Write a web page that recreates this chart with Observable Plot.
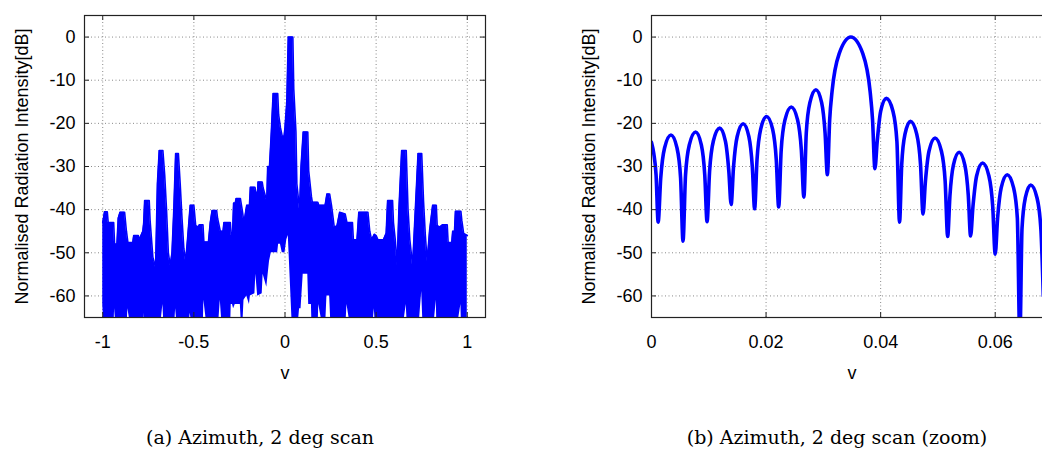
<!DOCTYPE html>
<html><head><meta charset="utf-8">
<script src="https://cdn.jsdelivr.net/npm/d3@7"></script>
<script src="https://cdn.jsdelivr.net/npm/@observablehq/plot@0.6"></script>
<style>
html,body{margin:0;padding:0;background:#fff;}
#wrap{position:relative;width:1042px;height:453px;overflow:hidden;background:#fff;}
.panel{position:absolute;top:0;width:521px;height:400px;}
.panel svg{max-width:none !important;}
.cap{position:absolute;top:426px;font-family:"DejaVu Serif","Liberation Serif",serif;font-size:19px;line-height:22px;white-space:nowrap;transform:translateX(-50%);color:#000;}
</style></head><body>
<div id="wrap">
  <div class="panel" id="pa" style="left:0px"></div>
  <div class="panel" id="pb" style="left:560px"></div>
  <div class="cap" style="left:260px">(a) Azimuth, 2 deg scan</div>
  <div class="cap" style="left:837px">(b) Azimuth, 2 deg scan (zoom)</div>
</div>
<script>
// ---------- data ----------
const yLabel = "Normalised Radiation Intensity[dB]";
const xLabel = "v";
const yTicks = [0, -10, -20, -30, -40, -50, -60];
const xTicksA = [-1, -0.5, 0, 0.5, 1];
const xTicksB = [0, 0.02, 0.04, 0.06];

// Panel (a): envelope of the dense pattern (upper edge and lower edge of the blue fill)
const fullV = [-1.000,-0.990,-0.975,-0.970,-0.940,-0.935,-0.922,-0.915,-0.905,-0.880,-0.870,-0.862,-0.835,-0.830,-0.805,-0.800,-0.780,-0.775,-0.770,-0.745,-0.740,-0.725,-0.710,-0.700,-0.690,-0.670,-0.660,-0.650,-0.640,-0.630,-0.620,-0.610,-0.600,-0.585,-0.575,-0.565,-0.555,-0.545,-0.535,-0.520,-0.500,-0.490,-0.475,-0.470,-0.450,-0.445,-0.420,-0.410,-0.400,-0.375,-0.370,-0.355,-0.340,-0.335,-0.300,-0.295,-0.288,-0.282,-0.273,-0.268,-0.245,-0.235,-0.225,-0.210,-0.195,-0.190,-0.165,-0.160,-0.150,-0.148,-0.125,-0.120,-0.100,-0.095,-0.085,-0.075,-0.065,-0.040,-0.035,-0.025,-0.015,-0.005,0.000,0.010,0.018,0.043,0.048,0.060,0.065,0.080,0.088,0.100,0.125,0.130,0.145,0.150,0.180,0.185,0.220,0.230,0.245,0.255,0.270,0.285,0.300,0.330,0.340,0.370,0.375,0.395,0.405,0.455,0.465,0.475,0.490,0.500,0.510,0.540,0.555,0.563,0.590,0.595,0.605,0.615,0.625,0.640,0.665,0.675,0.685,0.700,0.715,0.730,0.750,0.760,0.770,0.780,0.793,0.810,0.830,0.835,0.850,0.865,0.890,0.895,0.915,0.920,0.930,0.935,0.965,0.970,0.980,1.000];
const fullUpper = [-43,-40.5,-40.5,-43,-43,-48,-48,-42,-40.6,-40.6,-45,-47.6,-47.6,-46,-46,-47,-45,-43,-37.9,-37.9,-42.6,-51,-53.4,-34,-26.3,-26.3,-32,-40,-50,-53,-50,-40,-27,-27,-34,-42,-49,-52,-47,-39,-39,-43.7,-44,-43.5,-43.5,-47.5,-47.5,-43,-40.2,-40.2,-42,-45,-45,-43,-43,-46,-46,-38.5,-38.5,-37.4,-37.4,-40,-43,-39,-39,-34.8,-34.8,-36,-36,-33.6,-33.6,-35,-38,-30,-30,-22,-13.1,-13.1,-18,-21,-23,-23,-21,-15,0,0,-12,-22,-34,-40,-30,-22,-22,-31,-37,-38.3,-38.3,-39,-39,-36.4,-36.4,-39,-44,-43.8,-40.6,-41,-43,-43,-47,-47,-40.6,-40.6,-45,-47,-45.7,-46,-47,-47,-45.5,-37.9,-37.9,-43,-47,-53,-40,-26.3,-26.3,-40,-47,-53,-40,-27,-27,-38,-46,-52,-45,-39,-39,-43.7,-44,-43.5,-43.5,-47.6,-47.6,-45,-45,-40.4,-40.4,-42.5,-45.5,-46];
const fullLower = [-62,-70,-70,-70,-70,-63,-70,-70,-70,-70,-70,-63,-70,-70,-70,-70,-70,-64,-70,-70,-70,-70,-70,-70,-70,-62,-70,-70,-70,-70,-70,-70,-63,-70,-70,-70,-70,-70,-70,-64,-70,-70,-70,-70,-70,-61,-70,-70,-70,-70,-70,-61,-70,-70,-70,-62,-62,-63,-62,-62,-62,-70,-61,-60,-62,-60,-59.5,-55,-60,-60,-59.5,-55,-58,-56,-52,-50,-50,-50,-48,-48,-50,-50,-50,-47,-46,-70,-70,-70,-70,-63,-63,-55,-55,-62,-62,-70,-70,-62,-70,-60,-60,-70,-70,-70,-70,-70,-62,-70,-70,-70,-70,-70,-70,-70,-63,-70,-70,-70,-70,-70,-70,-70,-70,-70,-70,-70,-62,-70,-70,-70,-70,-70,-59,-70,-70,-70,-70,-70,-61,-70,-70,-70,-70,-70,-70,-70,-70,-70,-62,-70,-70,-70];

// Panel (b): zoomed pattern, nulls / shoulders / peaks of each lobe
const zoomV = [0,0.0004,0.0008,0.00116,0.00161,0.00228,0.0034,0.00445,0.00508,0.0055,0.00594,0.0066,0.0077,0.0087,0.0093,0.0097,0.01014,0.0108,0.0119,0.0129,0.0135,0.0139,0.01432,0.01495,0.0160,0.0170,0.0176,0.0180,0.01842,0.01905,0.0201,0.02115,0.02178,0.0222,0.02264,0.0233,0.0244,0.0255,0.02616,0.0266,0.02702,0.02765,0.0287,0.0297,0.0303,0.0307,0.03111,0.03152,0.03275,0.0348,0.0369,0.03816,0.03858,0.0390,0.0394,0.0400,0.0410,0.04215,0.04284,0.0433,0.04368,0.04425,0.0452,0.0463,0.04696,0.0474,0.04782,0.04845,0.0495,0.0506,0.05126,0.0517,0.0521,0.0527,0.0537,0.0547,0.0553,0.0557,0.05612,0.05675,0.0578,0.0589,0.05956,0.0600,0.06042,0.06105,0.0621,0.0632,0.06386,0.0643,0.06468,0.06525,0.0662,0.0673,0.06796,0.0684];
const zoomDb = [-24.4,-27,-32,-42.9,-32.7,-25.7,-22.7,-25.7,-32.7,-47.3,-32.0,-25.0,-22.0,-25.0,-32.0,-42.8,-31.1,-24.1,-21.1,-24.1,-31.1,-38.8,-30.1,-23.1,-20.1,-23.1,-30.1,-39.8,-28.4,-21.4,-18.4,-21.4,-28.4,-39.4,-26.2,-19.2,-16.2,-19.2,-26.2,-37.1,-22.2,-15.2,-12.2,-15.2,-22.2,-31.9,-19,-12.6,-3.9,0,-3.9,-12.6,-19,-30.5,-24.2,-17.2,-14.2,-17.2,-24.2,-42.9,-29.5,-22.5,-19.5,-22.5,-29.5,-41.0,-33.4,-26.4,-23.4,-26.4,-33.4,-46.2,-36.7,-29.7,-26.7,-29.7,-36.7,-46.1,-39.2,-32.2,-29.2,-32.2,-39.2,-50.3,-41.9,-34.9,-31.9,-34.9,-41.9,-70,-44.3,-37.3,-34.3,-37.3,-44.3,-60];

// ---------- drawing ----------
const BLUE = "#0000ff";
const W = 521, H = 400, MT = 15, MB = 83, FW = 401, FH = H - MT - MB;
const fmt = d => String(d);

function panel({xDomain, xTicks, marginLeft, marks}) {
  const marginRight = W - marginLeft - FW;
  return Plot.plot({
    width: W, height: H, marginTop: MT, marginBottom: MB, marginLeft, marginRight,
    x: {domain: xDomain},
    y: {domain: [-65, 5]},
    style: {fontFamily: "'Liberation Sans', Arial, sans-serif", fontSize: "18px", color: "#000", background: "transparent", overflow: "visible", maxWidth: "none"},
    marks: [
      Plot.gridX({ticks: xTicks, stroke: "#8a8a8a", strokeOpacity: 1, strokeWidth: 1, strokeDasharray: "1,2.5"}),
      Plot.gridY({ticks: yTicks, stroke: "#8a8a8a", strokeOpacity: 1, strokeWidth: 1, strokeDasharray: "1,2.5"}),
      ...marks,
      Plot.ruleX(xTicks, {x: d => d, insetTop: FH - 5, stroke: "#222"}),
      Plot.ruleX(xTicks, {x: d => d, insetBottom: FH - 5, stroke: "#222"}),
      Plot.ruleY(yTicks, {y: d => d, insetRight: FW - 5, stroke: "#222"}),
      Plot.ruleY(yTicks, {y: d => d, insetLeft: FW - 5, stroke: "#222"}),
      Plot.frame({stroke: "#222", strokeWidth: 1.2}),
      Plot.axisX({ticks: xTicks, tickSize: 0, tickPadding: 18, tickFormat: fmt, label: null, fontSize: 18}),
      Plot.axisY({ticks: yTicks, tickSize: 0, tickPadding: 9, tickFormat: fmt, label: null, fontSize: 18}),
      Plot.text([yLabel], {frameAnchor: "left", textAnchor: "middle", dx: -62, rotate: -90, fontSize: 18}),
      Plot.text([xLabel], {frameAnchor: "bottom", dy: 61, fontSize: 18})
    ]
  });
}

const fullData = fullV.map((v, i) => ({v, upper: fullUpper[i], lower: fullLower[i]}));
const zoomData = zoomV.map((v, i) => ({v, db: zoomDb[i]}));

document.getElementById("pa").append(panel({
  xDomain: [-1.1, 1.1], xTicks: xTicksA, marginLeft: 84,
  marks: [
    Plot.areaY(fullData, {x: "v", y1: "lower", y2: "upper", fill: BLUE, clip: true}),
    Plot.line(fullData, {x: "v", y: "upper", stroke: BLUE, strokeWidth: 1.6, clip: true})
  ]
}));

document.getElementById("pb").append(panel({
  xDomain: [0, 0.07], xTicks: xTicksB, marginLeft: 91,
  marks: [
    Plot.line(zoomData, {x: "v", y: "db", stroke: BLUE, strokeWidth: 3.6, curve: "monotone-x", clip: true})
  ]
}));
</script>
</body></html>
